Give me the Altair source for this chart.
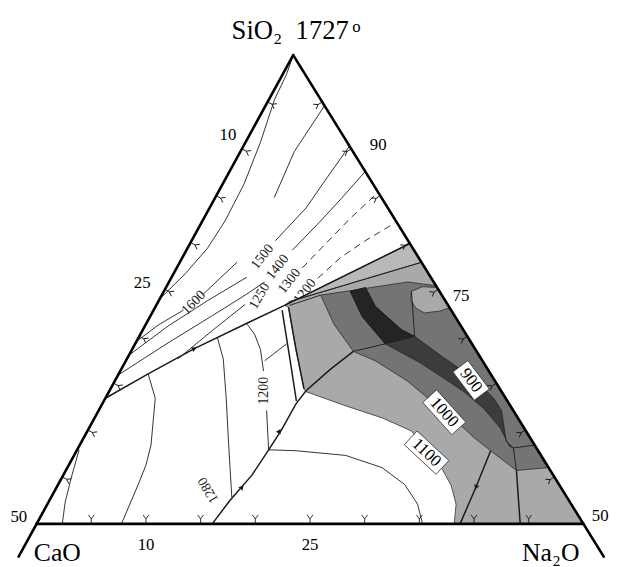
import altair as alt
import pandas as pd

# Compositions are given as (SiO2 wt%, Na2O wt%); CaO = 100 - SiO2 - Na2O.
# Horizontal pull of the CaO corner in this (slightly skewed) drawing.
CAO_SKEW = 0.4693

# ---------------- triangle frame ----------------
EDGE_CAO = [(100, 0), (46.5, 0)]
EDGE_NA2O = [(100, 0), (46.5, 53.5)]
EDGE_BASE = [(50, 0), (50, 50)]

# tick positions (wt%) on each edge
TICKS_CAO_EDGE = [95, 90, 85, 80, 75, 70, 65, 60, 55]      # SiO2 values on the SiO2-CaO side
TICKS_NA2O_EDGE = [95, 90, 85, 80, 75, 70, 65, 60, 55]     # SiO2 values on the SiO2-Na2O side
TICKS_BASE = [5, 10, 15, 20, 25, 30, 35, 40, 45]            # Na2O values on the 50 % SiO2 line

# ---------------- shaded primary-field regions ----------------
REGION_LIGHT = [(73.3, 11.74), (79.9, 20.1), (50, 50), (50, 38.18), (52.1, 37.37), (54.1, 35.98),
                (55.8, 34.38), (57.6, 32.09), (59.9, 29.65), (61.3, 26.30), (62.6, 22.32),
                (64.1, 18.02), (64.4, 17.69), (68.6, 14.99), (73.1, 12.20)]
REGION_WEDGE = [(73.3, 11.74), (79.9, 20.1), (77.9, 22.1), (73.7, 11.99)]
REGION_MEDIUM = [(74.4, 14.53), (74.9, 17.17), (75.8, 21.83), (75.4, 24.6), (56.0, 44.0), (55.7, 41.2),
                 (57.8, 37.86), (59.2, 35.68), (60.4, 34.01), (61.9, 31.69), (63.7, 29.05),
                 (65.2, 26.82), (67.4, 22.80), (68.4, 20.33), (71.3, 17.19)]
REGION_BAND = [(75.2, 18.25), (73.2, 20.09), (70.7, 23.66), (70.0, 25.18), (67.9, 28.61), (65.5, 32.72),
               (63.4, 35.51), (62.1, 36.83), (58.8, 38.81), (58.1, 39.79), (58.3, 39.33), (60.2, 37.63),
               (62.3, 35.11), (64.1, 32.46), (65.5, 30.01), (67.2, 26.97), (69.2, 22.87),
               (72.1, 19.41), (74.8, 17.04)]
REGION_CORE = [(74.8, 17.04), (75.2, 18.25), (73.2, 20.09), (70.7, 23.66), (70.0, 25.18),
               (69.2, 22.87), (72.1, 19.41)]
REGION_LOBE = [(75.2, 24.8), (75.3, 23.43), (74.8, 22.64), (73.9, 22.99), (73.0, 23.89),
               (72.5, 24.90), (72.7, 26.24), (73.05, 26.95)]

REGIONS = [
    ("light", "#a9a9a9", REGION_LIGHT),
    ("wedge", "#b9b9b9", REGION_WEDGE),
    ("medium", "#747474", REGION_MEDIUM),
    ("band", "#3c3c3c", REGION_BAND),
    ("core", "#242424", REGION_CORE),
    ("lobe", "#a9a9a9", REGION_LOBE),
]

# ---------------- field boundaries (heavier lines) ----------------
BOUNDARIES = {
    "b_left": [(63.4, 0.0), (66.0, 2.69), (68.7, 5.65), (71.4, 9.19), (73.3, 11.74)],
    "b_low": [(50.0, 16.06), (52.5, 16.50), (55.2, 17.25), (57.9, 17.51), (60.0, 17.69), (62.8, 17.71),
              (64.2, 17.97), (66.5, 19.14), (68.4, 20.33)],
    "b_wedge": [(73.3, 11.74), (79.9, 20.1)],
    "b_base": [(57.8, 37.86), (53.9, 38.34), (50, 38.72)],
    "b_strip_l": [(72.8, 11.75), (68.0, 14.66), (63.1, 17.61)],
    "b_strip_r": [(73.1, 12.20), (68.6, 14.99), (64.4, 17.69)],
    "b_vert": [(55.7, 41.2), (50, 44.22)],
}
# arrowheads on the boundaries: SiO2, Na2O, direction (deg, clockwise from up)
ARROWS = [(68.7, 5.65, 63), (59.9, 17.56, 31), (53.9, 16.95, 41), (53.9, 38.34, 203)]

# ---------------- isotherms and minor lines ----------------
ISOTHERMS = {
    "t1700": [(100, 0), (97.9, 0.36), (95.3, 0.51), (90.7, 1.37), (86.2, 1.96), (82.3, 2.07),
              (79.4, 1.83), (76.7, 1.08), (74.1, 0.06)],
    "t1600a": [(69.6, 0.1), (71.2, 1.17), (72.8, 2.73)],
    "t1600b": [(74.5, 3.74), (76.1, 4.44), (77.9, 5.23)],
    "t1600c": [(84.8, 5.40), (89.7, 4.93), (94.6, 5.4)],
    "t1500a": [(68.1, 0.08), (71.1, 2.12), (73.8, 4.45), (76.3, 6.87)],
    "t1500b": [(80.2, 7.66), (83.7, 8.83), (86.7, 9.20), (90.3, 9.7)],
    "t1400a": [(65.9, 0.03), (69.3, 2.96), (72.2, 5.64), (74.5, 7.71), (75.8, 8.75)],
    "t1400b": [(79.2, 9.69), (82.1, 10.74), (84.7, 11.58), (87.6, 12.42)],
    "t1250": [(67.6, 4.66), (70.6, 6.38), (73.4, 8.08)],
    "g": [(66.0, 2.69), (63.4, 4.56), (58.4, 6.52), (56.3, 7.05), (54.2, 7.32), (50, 7.76)],
    "h": [(57.9, 0.18), (55.0, 0.84), (52.3, 1.53), (50, 2.35)],
    "t1280": [(69.9, 7.18), (67.6, 8.81), (63.4, 11.05), (59.2, 13.21), (56.0, 14.87), (52.8, 16.54)],
    "t1200a": [(71.3, 9.25), (70.2, 10.46), (68.6, 11.74), (66.3, 13.10)],
    "t1200b": [(62.1, 15.35), (60.0, 16.43), (57.9, 17.51)],
    "tie": [(67.4, 12.70), (69.2, 13.84)],
    "n": [(57.9, 17.51), (57.8, 20.08), (57.3, 24.84), (56.0, 28.77), (54.2, 31.69), (52.1, 33.85),
          (50, 35.29)],
    "m_top": [(73.3, 12.19), (74.4, 14.53)],
    "wedge_mid": [(73.7, 11.99), (77.9, 22.1)],
    "lobe_down": [(74.8, 22.64), (70.0, 25.18)],
    "link": [(68.4, 20.33), (69.2, 22.87)],
    "tip": [(58.1, 39.79), (55.7, 41.2)],
    "tip_edge": [(58.1, 39.79), (58.4, 41.6)],
}
DASHED = {
    "t1300": [(77.3, 11.48), (79.9, 12.41), (82.6, 13.39), (85.3, 14.6)],
    "t1200c": [(76.2, 13.42), (78.4, 14.46), (80.2, 15.88), (82.1, 17.7)],
}

# ---------------- labels ----------------
FAN_LABELS = [  # text, SiO2, Na2O, angle
    ("1600", 73.6, 3.28, 315), ("1500", 78.5, 7.28, 308), ("1400", 77.4, 9.18, 308),
    ("1300", 75.9, 10.95, 308), ("1200", 74.8, 12.89, 308), ("1250", 74.3, 8.98, 300),
    ("1200", 64.2, 14.18, 270), ("1280", 53.6, 14.02, 240),
]
BOX_LABELS = [  # text, SiO2, Na2O, angle, box width, box height
    ("900", 65.3, 32.55, 53, 36, 19), ("1000", 61.9, 31.69, 48, 44, 19), ("1100", 57.6, 32.09, 43, 44, 19),
]
TICK_LABELS = [
    ("10", 91.47, -1.96), ("25", 75.68, -2.40), ("50", 50.74, -1.97),
    ("90", 90.42, 12.26), ("75", 74.32, 27.40), ("50", 50.84, 51.14),
    ("10", 47.79, 11.05), ("25", 47.79, 26.04),
]
TITLE = [("SiO₂\u00a0\u00a01727", 102.53, -1.46)]
TITLE_DEGREE = [("o", 102.95, 4.39)]
CORNER_LABELS = [("CaO", 46.84, 3.38), ("Na₂O", 46.84, 48.50)]

FONT = "Liberation Serif"
INK = "#1a1a1a"
TICK_SHAPE = "M0,1L0,0M-0.65,-0.9L0,0L0.65,-0.9"


def frame(name, pts, close=False):
    pts = list(pts) + ([pts[0]] if close else [])
    return pd.DataFrame({"id": name, "i": range(len(pts)),
                         "si": [p[0] for p in pts], "na": [p[1] for p in pts]})


X = alt.X("u:Q", scale=alt.Scale(domain=[-26.08, 29.15], nice=False, zero=False), axis=None)
Y = alt.Y("si:Q", scale=alt.Scale(domain=[45.79, 104.63], nice=False, zero=False), axis=None)


def base(df):
    return alt.Chart(df).transform_calculate(u=f"datum.na - {CAO_SKEW} * (100 - datum.si)")


def text_layer(rows, size, color="black"):
    df = pd.DataFrame(rows, columns=["t", "si", "na"])
    return base(df).mark_text(font=FONT, fontSize=size, color=color, align="center", baseline="middle") \
        .encode(x=X, y=Y, text="t:N")


layers = []

fan = pd.DataFrame(FAN_LABELS, columns=["t", "si", "na", "a"])
layers.append(base(fan).mark_text(font=FONT, fontSize=14, color=INK, align="center", baseline="middle")
              .encode(x=X, y=Y, text="t:N", angle=alt.Angle("a:Q", scale=None)))

for name, col, pts in REGIONS:
    layers.append(base(frame(name, pts, close=True))
                  .mark_line(fill=col, stroke=INK, strokeWidth=0.7, strokeJoin="round")
                  .encode(x=X, y=Y, order="i:Q"))

thin = pd.concat([frame(k, v) for k, v in ISOTHERMS.items()])
layers.append(base(thin).mark_line(color=INK, strokeWidth=0.9)
              .encode(x=X, y=Y, detail="id:N", order="i:Q"))

dashed = pd.concat([frame(k, v) for k, v in DASHED.items()])
layers.append(base(dashed).mark_line(color=INK, strokeWidth=0.9, strokeDash=[7, 5])
              .encode(x=X, y=Y, detail="id:N", order="i:Q"))

heavy = pd.concat([frame(k, v) for k, v in BOUNDARIES.items()])
layers.append(base(heavy).mark_line(color=INK, strokeWidth=1.5)
              .encode(x=X, y=Y, detail="id:N", order="i:Q"))

arrows = pd.DataFrame(ARROWS, columns=["si", "na", "a"])
layers.append(base(arrows).mark_point(shape="triangle-up", size=30, filled=True, color=INK, opacity=1)
              .encode(x=X, y=Y, angle=alt.Angle("a:Q", scale=None)))

# small Y-shaped ticks, set just inside each edge (stem pointing at the edge)
tick_rows = ([(s - 0.25, 0.52, 118.7) for s in TICKS_CAO_EDGE]
             + [(s - 0.28, 100 - s - 0.25, 238.3) for s in TICKS_NA2O_EDGE]
             + [(50.53, n - 0.25, 0) for n in TICKS_BASE])
tick_df = pd.DataFrame(tick_rows, columns=["si", "na", "a"])
layers.append(base(tick_df).mark_point(shape=TICK_SHAPE, size=80, stroke=INK, strokeWidth=0.9,
                                       filled=False, opacity=1)
              .encode(x=X, y=Y, angle=alt.Angle("a:Q", scale=None)))

boxes = pd.DataFrame(BOX_LABELS, columns=["t", "si", "na", "a", "w", "h"])
boxes["shape"] = [f"M-1,-{h / w:.3f}L1,-{h / w:.3f}L1,{h / w:.3f}L-1,{h / w:.3f}Z"
                  for w, h in zip(boxes.w, boxes.h)]
boxes["size"] = boxes.w ** 2
layers.append(base(boxes).mark_point(filled=True, fill="white", stroke="#333333", strokeWidth=0.8, opacity=1)
              .encode(x=X, y=Y, shape=alt.Shape("shape:N", scale=None), size=alt.Size("size:Q", scale=None),
                      angle=alt.Angle("a:Q", scale=None)))
layers.append(base(boxes).mark_text(font=FONT, fontSize=17, color="black", align="center", baseline="middle")
              .encode(x=X, y=Y, text="t:N", angle=alt.Angle("a:Q", scale=None)))

edges = pd.concat([frame("cao", EDGE_CAO), frame("na2o", EDGE_NA2O), frame("base", EDGE_BASE)])
layers.append(base(edges).mark_line(color="black", strokeWidth=2.6, strokeCap="round")
              .encode(x=X, y=Y, detail="id:N", order="i:Q"))

layers.append(text_layer(TICK_LABELS, 17))
layers.append(text_layer(TITLE, 27))
layers.append(text_layer(TITLE_DEGREE, 17))
layers.append(text_layer(CORNER_LABELS, 26))

chart = alt.layer(*layers).properties(
    width=612, height=559, padding=0, autosize=alt.AutoSizeParams(type="none")
).configure_view(stroke=None)

chart.save("out.html", embed_options={"renderer": "svg", "actions": False})
